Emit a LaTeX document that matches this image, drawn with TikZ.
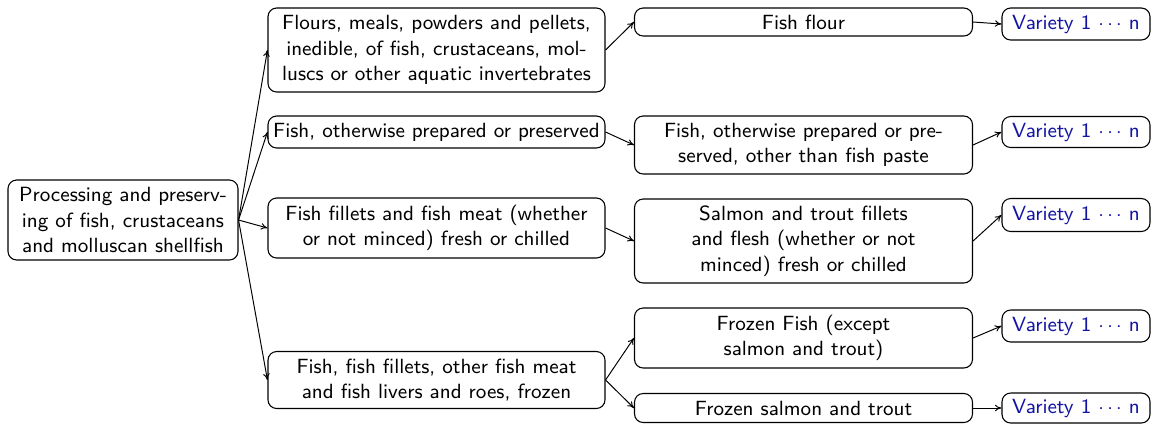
\documentclass[tikz,border=0pt]{standalone}
\usepackage{fontspec}
\usetikzlibrary{arrows.meta}
\definecolor{varblue}{RGB}{20,20,165}
\begin{document}
\begin{tikzpicture}[x=0.46pt,y=-0.46pt,
  box/.style 2 args={draw, rounded corners=4pt, line width=0.5pt, inner sep=0pt,
    font=\sffamily\fontsize{9.45}{11.8}\selectfont, align=center,
    minimum width=#1*0.46pt, minimum height=#2*0.46pt},
  vbox/.style={box={148}{#1}, text=varblue},
  link/.style={-{To[length=3pt,width=3pt]}, line width=0.45pt}]
\useasboundingbox (0,0) rectangle (1151,423);
% root
\node[box={230}{80}] (root) at (123,220) {Processing and preserv-\\ing of fish, crustaceans\\and molluscan shellfish};
% column 2
\node[box={337}{84}] (c1) at (436.5,50) {Flours, meals, powders and pellets,\\inedible, of fish, crustaceans, mol-\\luscs or other aquatic invertebrates};
\node[box={337}{32}] (c2) at (436.5,132) {Fish, otherwise prepared or preserved};
\node[box={337}{60}] (c3) at (436.5,228) {Fish fillets and fish meat (whether\\or not minced) fresh or chilled};
\node[box={337}{57}] (c4) at (436.5,380) {Fish, fish fillets, other fish meat\\and fish livers and roes, frozen};
% column 3
\node[box={338}{28}] (d1) at (803.5,22) {Fish flour};
\node[box={338}{58}] (d2) at (803.5,145) {Fish, otherwise prepared or pre-\\served, other than fish paste};
\node[box={338}{84}] (d3) at (803.5,241) {Salmon and trout fillets\\and flesh (whether or not\\minced) fresh or chilled};
\node[box={338}{60}] (d4) at (803.5,338) {Frozen Fish (except\\salmon and trout)};
\node[box={338}{29}] (d5) at (803.5,408) {Frozen salmon and trout};
% column 4
\node[vbox={32}] (v1) at (1076,24) {Variety 1 $\cdots$ n};
\node[vbox={31}] (v2) at (1076,132) {Variety 1 $\cdots$ n};
\node[vbox={33}] (v3) at (1076,215) {Variety 1 $\cdots$ n};
\node[vbox={32}] (v4) at (1076,326) {Variety 1 $\cdots$ n};
\node[vbox={30}] (v5) at (1076,408) {Variety 1 $\cdots$ n};
% connectors
\foreach \c in {c1,c2,c3,c4} \draw[link] (root.east) -- (\c.west);
\draw[link] (c1.east) -- (d1.west);
\draw[link] (c2.east) -- (d2.west);
\draw[link] (c3.east) -- (d3.west);
\draw[link] (c4.east) -- (d4.west);
\draw[link] (c4.east) -- (d5.west);
\draw[link] (d1.east) -- (v1.west);
\draw[link] (d2.east) -- (v2.west);
\draw[link] (d3.east) -- (v3.west);
\draw[link] (d4.east) -- (v4.west);
\draw[link] (d5.east) -- (v5.west);
\end{tikzpicture}
\end{document}
